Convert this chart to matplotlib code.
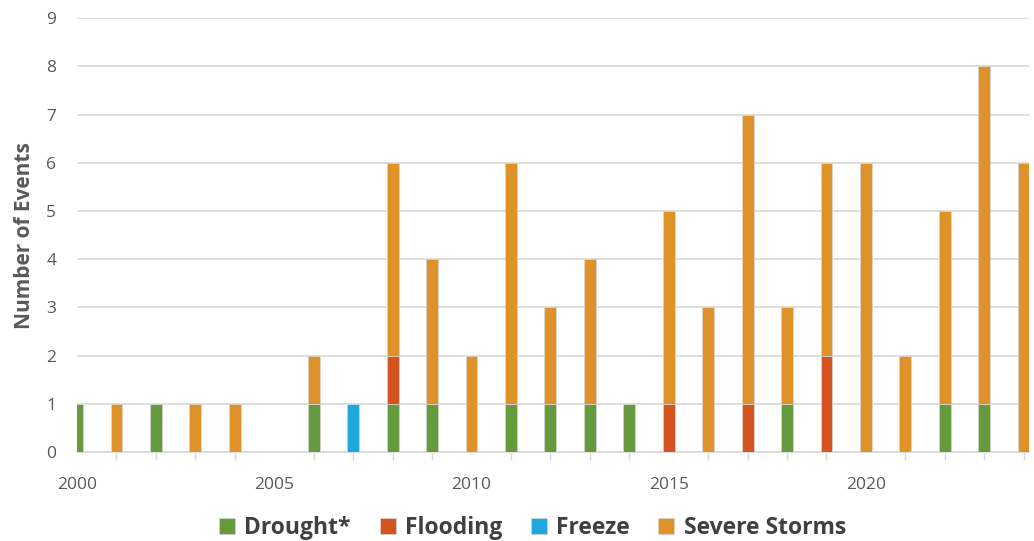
import matplotlib
matplotlib.use("Agg")
import matplotlib.pyplot as plt
import numpy as np

plt.rcParams['font.family'] = ['Open Sans', 'DejaVu Sans']

years = list(range(2000, 2025))
drought = [1, 0, 1, 0, 0, 0, 1, 0, 1, 1, 0, 1, 1, 1, 1, 0, 0, 0, 1, 0, 0, 0, 1, 1, 0]
flooding = [0, 0, 0, 0, 0, 0, 0, 0, 1, 0, 0, 0, 0, 0, 0, 1, 0, 1, 0, 2, 0, 0, 0, 0, 0]
freeze = [0, 0, 0, 0, 0, 0, 0, 1, 0, 0, 0, 0, 0, 0, 0, 0, 0, 0, 0, 0, 0, 0, 0, 0, 0]
storms = [0, 1, 0, 1, 1, 0, 1, 0, 4, 3, 2, 5, 2, 3, 0, 4, 3, 6, 2, 4, 6, 2, 4, 7, 6]

series = [
    ("Drought*", drought, "#659b3e"),
    ("Flooding", flooding, "#d4541f"),
    ("Freeze", freeze, "#20a6df"),
    ("Severe Storms", storms, "#e0922a"),
]

text_color = "#595959"
grid_color = "#d9d9d9"

fig = plt.figure(figsize=(10.34, 5.41), dpi=100)
ax = fig.add_axes([0.0745, 0.1645, 0.9205, 0.802])

x = np.array(years, dtype=float)
bottom = np.zeros(len(years))
for name, vals, color in series:
    v = np.array(vals, dtype=float)
    ax.bar(x, v, width=0.3, bottom=bottom, color=color, edgecolor="#d6d6d6",
           linewidth=0.5, label=name, zorder=3)
    bottom += v

ax.set_xlim(2000, 2024.13)
ax.set_ylim(0, 9)
ax.set_yticks(range(0, 10))
ax.set_xticks(range(2000, 2025, 5))
ax.set_xticks(years, minor=True)
ax.yaxis.grid(True, color=grid_color, linewidth=1.2, zorder=0)
ax.set_axisbelow(True)
for side in ["top", "right", "left"]:
    ax.spines[side].set_visible(False)
ax.spines["bottom"].set_color(grid_color)
ax.spines["bottom"].set_linewidth(1.2)

ax.tick_params(axis="y", length=0, pad=15, labelsize=12.5, labelcolor=text_color)
ax.tick_params(axis="x", which="major", length=0, pad=18, labelsize=12.5, labelcolor=text_color)
ax.tick_params(axis="x", which="minor", length=6, width=1, color=grid_color)

ax.set_ylabel("Number of Events", fontsize=15, fontweight="bold", color=text_color, labelpad=8)

leg = fig.legend(loc="lower center", bbox_to_anchor=(0.515, -0.037), ncol=4, frameon=False,
                 handlelength=0.7, handleheight=0.7, handletextpad=0.4, columnspacing=1.25,
                 prop={"size": 16.5, "weight": "bold"})
for t in leg.get_texts():
    t.set_color("#404040")

fig.savefig("out.png", dpi=100)
